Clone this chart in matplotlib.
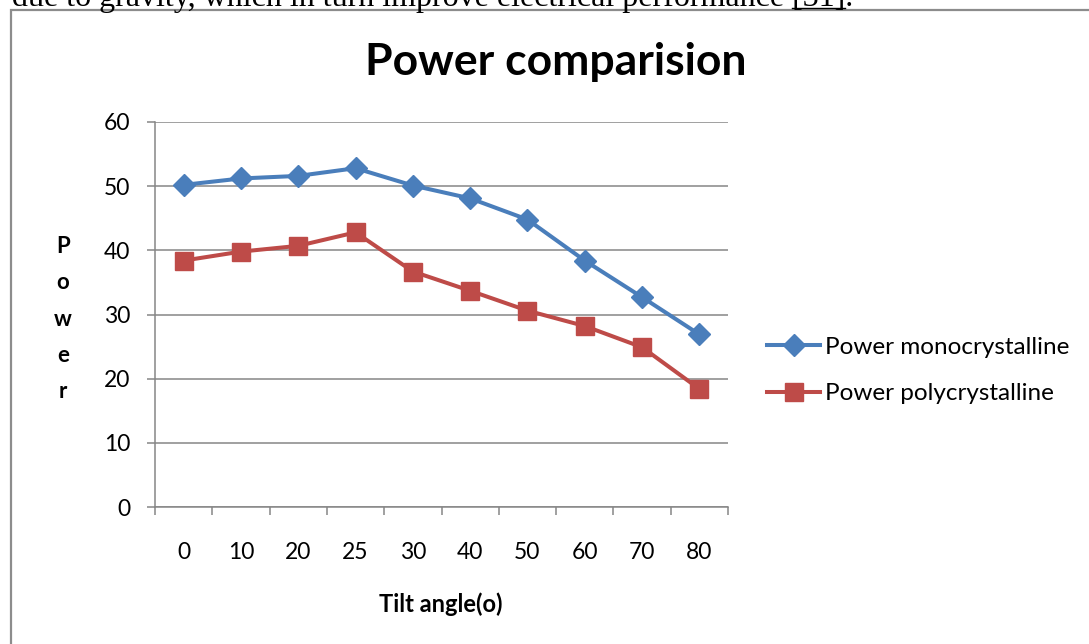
import matplotlib.pyplot as plt
from matplotlib.lines import Line2D
from matplotlib.patches import Rectangle

# DATA

angles = ["0", "10", "20", "25", "30", "40", "50", "60", "70", "80"]
mono = [50.2, 51.2, 51.6, 52.8, 50.1, 48.1, 44.8, 38.4, 32.7, 26.9]
poly = [38.4, 39.8, 40.7, 42.8, 36.7, 33.7, 30.6, 28.2, 24.9, 18.4]

BLUE = "#4A7EBB"
RED = "#BE4B48"
GRID = "#868686"
FONT = "Lato"

plt.rcParams["font.family"] = [FONT, "DejaVu Sans"]

fig = plt.figure(figsize=(10.89, 6.44), dpi=100)
W, H = 1089, 644

# grey chart frame (bottom and right run past the page)
fig.patches.append(Rectangle((10.5 / W, -0.1), 1.2, 1 - 10.5 / H + 0.1,
                             transform=fig.transFigure, fill=False,
                             edgecolor="#8c8c8c", linewidth=1.6))

# cut-off line of body text above the chart
body = fig.text(12 / W, 1 - 6 / H, "due to gravity, which in turn improve electrical performance [31].",
                family="Liberation Serif", fontsize=23, va="baseline", ha="left")

ax = fig.add_axes([155 / W, 1 - 507 / H, (728 - 155) / W, (507 - 122) / H])

x = range(len(angles))
ax.plot(x, mono, color=BLUE, linewidth=2.9, marker="D", markersize=11.5,
        label="Power monocrystalline", zorder=3)
ax.plot(x, poly, color=RED, linewidth=2.9, marker="s", markersize=12.5,
        label="Power polycrystalline", zorder=3)

ax.set_xlim(-0.5, len(angles) - 0.5)
ax.set_ylim(0, 60)
ax.set_yticks(range(0, 61, 10))
ax.set_xticks(list(x))
ax.set_xticklabels(angles)
ax.set_xticks([i - 0.5 for i in range(len(angles) + 1)], minor=True)

ax.grid(axis="y", color=GRID, linewidth=1.1)
ax.set_axisbelow(True)
for s in ["top", "right"]:
    ax.spines[s].set_visible(False)
for s in ["left", "bottom"]:
    ax.spines[s].set_color(GRID)
    ax.spines[s].set_linewidth(1.1)

ax.tick_params(axis="y", length=6, width=1.1, color=GRID, pad=12, labelsize=16.5)
ax.tick_params(axis="x", which="major", length=0, pad=25, labelsize=16.5)
ax.tick_params(axis="x", which="minor", length=6, width=1.1, color=GRID)

fig.text(556 / W, 1 - 62 / H, "Power comparision", fontsize=32, fontweight="bold",
         ha="center", va="center")
fig.text(63 / W, 1 - 319 / H, "\n".join("Power"), fontsize=16, fontweight="bold",
         ha="center", va="center", linespacing=1.9)
fig.text(441 / W, 1 - 604 / H, "Tilt angle(o)", fontsize=17, fontweight="bold",
         ha="center", va="center")

fig.legend(loc="center left", bbox_to_anchor=(767 / W, 1 - 370.5 / H), frameon=False,
           fontsize=17.5, handlelength=2.2, handletextpad=0.2, labelspacing=1.04,
           borderpad=0, borderaxespad=0)

# underline the citation
fig.canvas.draw()
r = fig.canvas.get_renderer()
bb = body.get_window_extent(r)
tmp = fig.text(0, 0, "[31].", family="Liberation Serif", fontsize=23)
w_all = tmp.get_window_extent(r).width
tmp.set_text(".")
w_dot = tmp.get_window_extent(r).width
tmp.remove()
x0 = (bb.x1 - w_all) / W
x1 = (bb.x1 - w_dot) / W
fig.add_artist(Line2D([x0, x1], [1 - 7.5 / H, 1 - 7.5 / H], transform=fig.transFigure,
                      color="black", linewidth=1.0))

fig.savefig("out.png", dpi=100)
